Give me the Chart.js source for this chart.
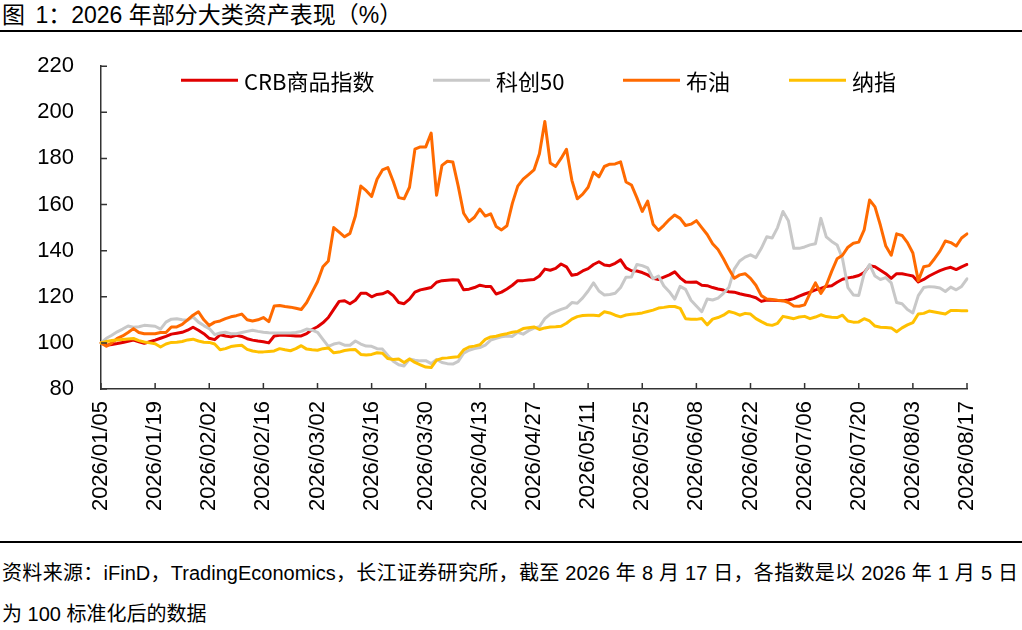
<!DOCTYPE html>
<html>
<head>
<meta charset="utf-8">
<script src="https://cdn.jsdelivr.net/npm/chart.js@4.4.1/dist/chart.umd.min.js"></script>
<style>
  body { margin: 0; width: 1022px; height: 630px; background: #fff; position: relative; overflow: hidden;
         font-family: "Liberation Sans", "Noto Sans CJK SC", sans-serif; color: #000; }
  .title { position: absolute; left: 2px; top: 2px; font-size: 23px; line-height: 26px; white-space: nowrap; }
  .rule { position: absolute; left: 0; width: 1022px; height: 2px; background: #000; }
  #wrap { position: absolute; left: 0; top: 26px; width: 1022px; height: 515px; }
  .foot { position: absolute; left: 2px; width: 1016px; font-size: 20px; line-height: 26px; white-space: nowrap; }
  .justify { text-align: justify; text-align-last: justify; }
</style>
</head>
<body>
<div class="title"><span style="margin-right:4px">图</span> 1：2026 年部分大类资产表现（%）</div>
<div class="rule" style="top:30px"></div>
<div id="wrap"><canvas id="assetChart"></canvas></div>
<div class="rule" style="top:541px"></div>
<div class="foot justify" style="top:560px">资料来源：iFinD，TradingEconomics，长江证券研究所，截至 2026 年 8 月 17 日，各指数是以 2026 年 1 月 5 日</div>
<div class="foot" style="top:601px">为 100 标准化后的数据</div>

<script>
// trading days (weekdays) from 2026/01/05 to 2026/08/17
const dateLabels = [];
for (let d = new Date(2026, 0, 5); d <= new Date(2026, 7, 17); d.setDate(d.getDate() + 1)) {
  if (d.getDay() === 0 || d.getDay() === 6) continue;
  const mm = String(d.getMonth() + 1).padStart(2, '0');
  const dd = String(d.getDate()).padStart(2, '0');
  dateLabels.push(d.getFullYear() + '/' + mm + '/' + dd);
}

const seriesNames = ['CRB商品指数', '科创50', '布油', '纳指'];

const crbIndex = [100,99,99.3,99.7,100.2,100.7,101.2,100.5,99.8,100.5,
  101.2,102,102.8,103.8,104.2,104.6,105.5,106.8,105.5,104,
  102,101.4,103.5,103,102.6,103.3,102.8,101.8,101.2,100.8,
  100.5,100,103,103.3,103.3,103.2,103,103,104,105.8,
  107,108.7,111,114.5,118,118.3,117,118.5,121.5,121.5,
  120,121,121.3,122.3,120.5,117.5,117,119,122,123,
  123.5,124,126.3,127,127.2,127.4,127.3,123,123.3,124,
  125,124.5,124.5,121.2,122,123.4,125,127,127,127.3,
  127.5,129,132,131.5,132.3,134.2,133,129.3,129.8,131.2,
  132.2,134,135.2,133.8,133.5,134.5,136,132.5,131.3,131.2,
  130.5,129.5,128,127.5,128.5,129.5,130.8,128.2,126.4,126.3,
  126.4,125,124.8,124,123.4,122.9,122.2,122,121.3,120.8,
  120.3,119.6,118,118.6,118.5,118.4,118.3,118.6,119.2,120.3,
  121.2,122,123,123.6,124.5,124.8,126.3,127.6,128.2,128.6,
  129.2,130.5,133.5,133,131.5,130,128,130,130,129.5,
  129,126.4,127.5,129,130.2,131.3,132.2,132.8,131.8,133,
  134];

const star50 = [100,102,103.3,104.8,106,107.3,106.8,107,107.6,107.4,
  107.2,106,109,110.3,110.5,110,109.8,111.3,109,107.5,
  106.2,103.6,104.3,104.6,104,104,104.5,105,105.5,105,
  104.6,104.4,104.3,104.3,104.3,104.3,104.5,105,106,105.5,
  104.6,101.5,98.5,99.5,100,99,99,100.8,99.5,98.6,
  98.5,97.5,97.3,94.5,92,90.5,90,93,92.5,92.2,
  92.3,91,92.8,91.5,91,90.8,92,95.5,96.8,97.5,
  98,99,101.2,102,102.6,103,102.8,104.6,103.8,105.3,
  106.4,107,110.5,112.5,113.6,114.5,115.3,117.5,117.2,119.5,
  122.5,126,122.5,120.8,121,121.5,124,128.5,128.6,134,
  133.5,132.5,127.8,129,124.7,122.2,119,124.5,123.2,118.5,
  116,113.5,119,118.6,119.4,121.5,124,132,135.5,137.2,
  138.2,137,141,146,145.5,150,157,153,141,141,
  141.6,142.5,143,154,146,144,142.5,136.5,124,120.8,
  120.6,130,134,129,127.5,128.3,126,117.5,117,114.5,
  113,120.5,124,124.4,124.2,123.8,122.3,124.2,123,124.5,
  127.8];

const brentOil = [100,98.5,100,102,103,104.5,106.2,104.5,104,104,
  104,104.5,104.5,106.9,106.9,108,110,112,113.5,110,
  107.5,109,109.5,110.5,111.3,111.8,112.5,110,109.5,110,
  111,109.2,116,116.2,115.8,115.5,115,114.5,117.5,122,
  126.5,133,135.5,150,148,146,147.5,155,168,166,
  163.5,171,175,176,170,163,162.5,167.5,184,185,
  185,191,164,177,178.8,178.5,168,156.2,152.6,154.5,
  158,155,156,150.5,149,150.8,160.5,168,171,173,
  175,182,196,178,176.5,180,184,170.5,162.5,164.5,
  167.5,174,172,176.5,177.5,177.6,178.5,169.8,168.5,163,
  157,161.5,151.5,148.8,151,153.5,155.5,154,150.9,151.5,
  153,150,147,143,140.5,136.5,132,128,129.5,130,
  128,125,120.5,119,118.8,118.5,118.3,117.5,116,115.9,
  116.5,121.5,126,121.5,125,131,136.5,138,141.5,143.2,
  143.7,149,162,159,151,142,138,147.3,146.6,143.5,
  139,127,133,133.5,136.5,139.8,144.2,143.5,142,145.5,
  147.3];

const nasdaq = [100,100.6,101,101.3,101.5,101.7,101.9,101,100.4,100,
  99.6,98.2,99.5,100.2,100.3,100.6,101.3,101.6,100.8,100.3,
  100.2,99.5,97,97.5,98.4,98.8,99,97.2,96.5,96.1,
  96.1,96.3,96.5,97.5,97,96.6,97.5,98.8,97.3,97,
  96.8,97.5,97.8,95.7,96,96.7,97,97.1,95,94.7,
  95,95.7,95.5,93.2,92.8,93,91.5,93,91.5,90.5,
  89.5,89.3,92.5,93.3,93.5,93.8,94,97,98.2,98.6,
  99.2,101.5,102.6,102.9,103.5,104,104.6,105,106.2,106.6,
  106.9,105.8,106.5,106.9,107,107.2,108.5,110.3,111.4,111.9,
  112,112,111.8,113.5,113,112,111.3,112.1,112.4,112.6,
  113,113.6,114.2,115.1,115.4,115.8,115.8,115,110.5,110.3,
  110.2,110.6,107.8,110.3,111,112,113.6,113,112,112.8,
  112.5,110.5,109.2,108,107.6,108.5,111.5,111,110.5,111.2,
  111.5,110.5,111.2,112.2,111.4,111.1,111,112,109.5,109,
  109.1,110.5,109.5,107.3,106.8,106.7,106.5,104.8,106.5,107.8,
  108.8,112.5,112.8,113.8,113.4,113,112.5,114,114.1,113.9,
  113.9];

const yTicks = { min: 80, max: 220, step: 20 };
const labelEvery = 10;

const AXIS_COLOR = '#333';
const TICK_FONT = { family: 'Liberation Sans', size: 22 };
const LEGEND_X = [181, 433, 623, 789];

function lineSet(label, data, color, order) {
  return {
    label: label,
    data: data,
    borderColor: color,
    backgroundColor: color,
    borderWidth: 3,
    pointRadius: 0,
    tension: 0,
    borderJoinStyle: 'round',
    borderCapStyle: 'round',
    fill: false,
    order: order
  };
}

// tick marks pointing into the plot, like the excel original
const innerTicks = {
  id: 'innerTicks',
  afterDraw(chart) {
    const { ctx, chartArea: a } = chart;
    const x = chart.scales.x, y = chart.scales.y;
    ctx.save();
    ctx.strokeStyle = AXIS_COLOR;
    ctx.lineWidth = 1.5;
    ctx.beginPath();
    for (let i = 0; i < dateLabels.length; i += labelEvery) {
      const px = x.getPixelForValue(i);
      ctx.moveTo(px, a.bottom);
      ctx.lineTo(px, a.bottom - 6);
    }
    y.ticks.forEach(t => {
      const py = y.getPixelForValue(t.value);
      ctx.moveTo(a.left, py);
      ctx.lineTo(a.left + 6, py);
    });
    ctx.stroke();
    ctx.restore();
  }
};

// legend drawn inside the top of the plot area
const lineLegend = {
  id: 'lineLegend',
  afterDraw(chart) {
    const { ctx, chartArea: a } = chart;
    ctx.save();
    ctx.font = '22px "Noto Sans CJK SC", "Liberation Sans", sans-serif';
    ctx.textBaseline = 'middle';
    const cy = a.top + 14;
    chart.data.datasets.forEach((ds, i) => {
      const cx = LEGEND_X[i];
      ctx.strokeStyle = ds.borderColor;
      ctx.lineWidth = 3;
      ctx.beginPath();
      ctx.moveTo(cx, cy);
      ctx.lineTo(cx + 57, cy);
      ctx.stroke();
      ctx.fillStyle = '#000';
      ctx.fillText(ds.label, cx + 63, cy + 1);
    });
    ctx.restore();
  }
};

const ctx = document.getElementById('assetChart').getContext('2d');
const assetChart = new Chart(ctx, {
  type: 'line',
  data: {
    labels: dateLabels,
    datasets: [
      lineSet(seriesNames[0], crbIndex, '#E00000', 3),
      lineSet(seriesNames[1], star50, '#C8C8C8', 2),
      lineSet(seriesNames[2], brentOil, '#FF6A00', 1),
      lineSet(seriesNames[3], nasdaq, '#FFC000', 0)
    ]
  },
  options: {
    responsive: true,
    maintainAspectRatio: false,
    animation: false,
    layout: { padding: { top: 28, right: 55, left: 0, bottom: 0 } },
    plugins: {
      legend: { display: false },
      tooltip: { enabled: false },
      title: { display: false }
    },
    scales: {
      x: {
        type: 'category',
        offset: false,
        grid: { display: false, drawTicks: false },
        border: { display: true, color: AXIS_COLOR, width: 1.5 },
        ticks: {
          autoSkip: false,
          minRotation: 90,
          maxRotation: 90,
          padding: 12,
          color: '#000',
          font: TICK_FONT,
          callback: (v, i) => (i % labelEvery === 0 ? dateLabels[i] : null)
        },
        afterFit: s => { s.height = 152; }
      },
      y: {
        min: yTicks.min,
        max: yTicks.max,
        grid: { display: false, drawTicks: false },
        border: { display: true, color: AXIS_COLOR, width: 1.5 },
        ticks: { stepSize: yTicks.step, padding: 27, color: '#000', font: TICK_FONT },
        afterFit: s => { s.width = 101; }
      }
    }
  },
  plugins: [innerTicks, lineLegend]
});
</script>
</body>
</html>
